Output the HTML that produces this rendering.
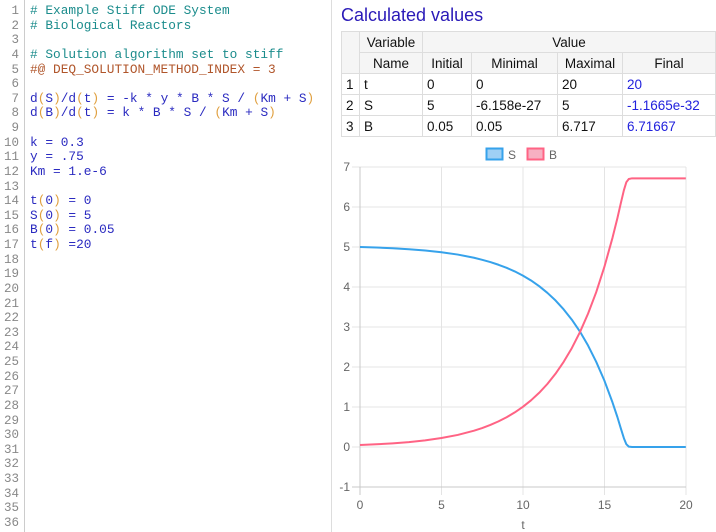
<!DOCTYPE html>
<html><head><meta charset="utf-8"><style>
body{margin:0;width:716px;height:532px;background:#fff;overflow:hidden;position:relative;font-family:"Liberation Sans",sans-serif}
#ed{position:absolute;left:0;top:0;width:331px;height:532px;border-right:1px solid #ddd}
#gut{position:absolute;left:0;top:0;width:24px;height:532px;border-right:1px solid #ccc;background:#fff}
.c{color:#1b8c8c}.d{color:#b0552a}.p{color:#e0a040}
h2{position:absolute;left:341px;top:5px;margin:0;font-weight:normal;font-size:18px;color:#2a1ab8}
table{position:absolute;left:341px;top:31px;border-collapse:collapse;font-size:13.5px;color:#111}
td{border:1px solid #ddd;height:20px;padding:0 4px;white-space:nowrap}
.h td{background:#f5f5f5;text-align:center}
.f{color:#2222dd}
</style></head><body>
<div id="ed"><div id="gut"></div></div>
<h2>Calculated values</h2>
<table>
<tr class="h"><td rowspan="2" style="width:9px"></td><td style="width:54px">Variable</td><td colspan="4">Value</td></tr>
<tr class="h"><td>Name</td><td style="width:40px">Initial</td><td style="width:77px">Minimal</td><td style="width:56px">Maximal</td><td style="width:84px">Final</td></tr>
<tr><td>1</td><td>t</td><td>0</td><td>0</td><td>20</td><td class="f">20</td></tr>
<tr><td>2</td><td>S</td><td>5</td><td>-6.158e-27</td><td>5</td><td class="f">-1.1665e-32</td></tr>
<tr><td>3</td><td>B</td><td>0.05</td><td>0.05</td><td>6.717</td><td class="f">6.71667</td></tr>
</table>
<svg style="position:absolute;left:0;top:0" width="716" height="532">
<g stroke="#e4e4e4" stroke-width="1">
<line x1="352" x2="686" y1="167" y2="167"/><line x1="352" x2="686" y1="207" y2="207"/><line x1="352" x2="686" y1="247" y2="247"/><line x1="352" x2="686" y1="287" y2="287"/><line x1="352" x2="686" y1="327" y2="327"/><line x1="352" x2="686" y1="367" y2="367"/><line x1="352" x2="686" y1="407" y2="407"/><line x1="352" x2="686" y1="447" y2="447"/>
<line x1="441.5" x2="441.5" y1="167" y2="495"/><line x1="523" x2="523" y1="167" y2="495"/><line x1="604.5" x2="604.5" y1="167" y2="495"/><line x1="686" x2="686" y1="167" y2="495"/>
</g>
<g stroke="#c8c8c8"><line x1="352" x2="686" y1="487" y2="487"/><line x1="360" x2="360" y1="167" y2="495"/></g>
<g font-size="12" fill="#666" text-anchor="end">
<text x="350" y="171">7</text><text x="350" y="211">6</text><text x="350" y="251">5</text><text x="350" y="291">4</text><text x="350" y="331">3</text><text x="350" y="371">2</text><text x="350" y="411">1</text><text x="350" y="451">0</text><text x="350" y="491">-1</text>
</g>
<g font-size="12" fill="#666" text-anchor="middle">
<text x="360" y="509">0</text><text x="441.5" y="509">5</text><text x="523" y="509">10</text><text x="604.5" y="509">15</text><text x="686" y="509">20</text><text x="523" y="529">t</text>
</g>
<rect x="486.5" y="148.5" width="16" height="11" fill="#9fd0f5" stroke="#36a2eb" stroke-width="2"/>
<text x="508" y="159" font-size="12" fill="#666">S</text>
<rect x="527.5" y="148.5" width="16" height="11" fill="#f7b0c2" stroke="#ff6384" stroke-width="2"/>
<text x="549" y="159" font-size="12" fill="#666">B</text>
<g transform="translate(360,447) scale(16.29,-40)" fill="none" stroke-width="2" stroke-linejoin="round">
<polyline vector-effect="non-scaling-stroke" stroke="#36a2eb" points="0,5 1,4.987 2,4.969 3,4.945 4,4.913 5,4.870 6,4.811 7,4.731 7.5,4.68 8,4.624 8.5,4.556 9,4.480 9.5,4.39 10,4.284 10.5,4.163 11,4.020 11.5,3.855 12,3.665 12.5,3.442 13,3.185 13.5,2.887 14,2.537 14.5,2.13 15,1.662 15.5,1.115 15.8,0.75 16,0.48 16.2,0.22 16.35,0.07 16.5,0.01 16.7,0 20,0"/>
<polyline vector-effect="non-scaling-stroke" stroke="#ff6384" points="0,0.05 1,0.0675 2,0.0911 3,0.123 4,0.166 5,0.224 6,0.302 7,0.408 7.5,0.474 8,0.551 8.5,0.641 9,0.744 9.5,0.865 10,1.004 10.5,1.167 11,1.356 11.5,1.575 12,1.830 12.5,2.127 13,2.470 13.5,2.870 14,3.334 14.5,3.87 15,4.501 15.5,5.23 15.8,5.72 16,6.076 16.2,6.42 16.35,6.62 16.5,6.70 16.7,6.717 20,6.717"/>
</g>
</svg>
<pre style="margin:0;position:absolute;left:0;top:4px;width:19px;text-align:right;font:12.5px/14.62px 'Liberation Mono',monospace;color:#888">1
2
3
4
5
6
7
8
9
10
11
12
13
14
15
16
17
18
19
20
21
22
23
24
25
26
27
28
29
30
31
32
33
34
35
36</pre>
<pre style="margin:0;position:absolute;left:30px;top:4px;font:12.8px/14.62px 'Liberation Mono',monospace;color:#2a2ac0"><span class="c"># Example Stiff ODE System</span>
<span class="c"># Biological Reactors</span>

<span class="c"># Solution algorithm set to stiff</span>
<span class="d">#@ DEQ_SOLUTION_METHOD_INDEX = 3</span>

d<span class="p">(</span>S<span class="p">)</span>/d<span class="p">(</span>t<span class="p">)</span> = -k * y * B * S / <span class="p">(</span>Km + S<span class="p">)</span>
d<span class="p">(</span>B<span class="p">)</span>/d<span class="p">(</span>t<span class="p">)</span> = k * B * S / <span class="p">(</span>Km + S<span class="p">)</span>

k = 0.3
y = .75
Km = 1.e-6

t<span class="p">(</span>0<span class="p">)</span> = 0
S<span class="p">(</span>0<span class="p">)</span> = 5
B<span class="p">(</span>0<span class="p">)</span> = 0.05
t<span class="p">(</span>f<span class="p">)</span> =20</pre>
</body></html>
